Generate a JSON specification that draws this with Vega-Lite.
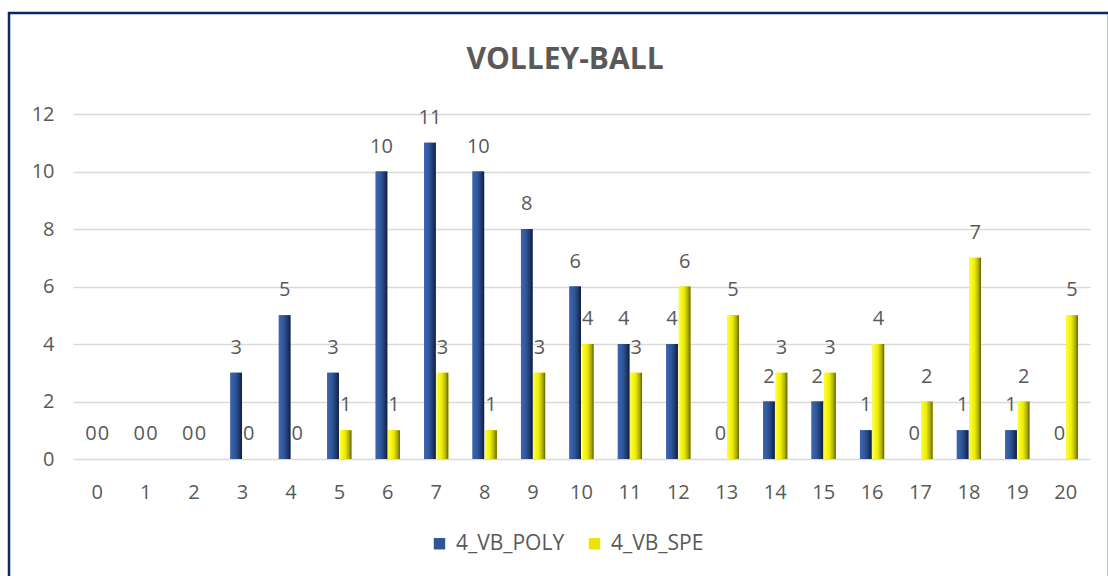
{
  "$schema": "https://vega.github.io/schema/vega-lite/v6.json",
  "width": 1100,
  "height": 565,
  "autosize": "none",
  "padding": {"left": 9, "top": 13, "right": 0, "bottom": 0},
  "background": "white",
  "config": {
    "font": "Open Sans",
    "view": {"stroke": "#0B2A63", "strokeWidth": 2.5},
    "axis": {"labelFont": "Open Sans", "labelColor": "#595959", "labelFontSize": 20},
    "legend": {"labelFont": "Open Sans", "labelColor": "#595959", "labelFontSize": 21}
  },
  "title": {
    "text": "VOLLEY-BALL",
    "font": "Open Sans",
    "fontSize": 30,
    "fontWeight": "bold",
    "color": "#595959",
    "anchor": "middle",
    "dx": 6,
    "offset": -62
  },
  "data": {
    "values": [
      {"cat": 0, "series": "4_VB_POLY", "value": 0},
      {"cat": 1, "series": "4_VB_POLY", "value": 0},
      {"cat": 2, "series": "4_VB_POLY", "value": 0},
      {"cat": 3, "series": "4_VB_POLY", "value": 3},
      {"cat": 4, "series": "4_VB_POLY", "value": 5},
      {"cat": 5, "series": "4_VB_POLY", "value": 3},
      {"cat": 6, "series": "4_VB_POLY", "value": 10},
      {"cat": 7, "series": "4_VB_POLY", "value": 11},
      {"cat": 8, "series": "4_VB_POLY", "value": 10},
      {"cat": 9, "series": "4_VB_POLY", "value": 8},
      {"cat": 10, "series": "4_VB_POLY", "value": 6},
      {"cat": 11, "series": "4_VB_POLY", "value": 4},
      {"cat": 12, "series": "4_VB_POLY", "value": 4},
      {"cat": 13, "series": "4_VB_POLY", "value": 0},
      {"cat": 14, "series": "4_VB_POLY", "value": 2},
      {"cat": 15, "series": "4_VB_POLY", "value": 2},
      {"cat": 16, "series": "4_VB_POLY", "value": 1},
      {"cat": 17, "series": "4_VB_POLY", "value": 0},
      {"cat": 18, "series": "4_VB_POLY", "value": 1},
      {"cat": 19, "series": "4_VB_POLY", "value": 1},
      {"cat": 20, "series": "4_VB_POLY", "value": 0},
      {"cat": 0, "series": "4_VB_SPE", "value": 0},
      {"cat": 1, "series": "4_VB_SPE", "value": 0},
      {"cat": 2, "series": "4_VB_SPE", "value": 0},
      {"cat": 3, "series": "4_VB_SPE", "value": 0},
      {"cat": 4, "series": "4_VB_SPE", "value": 0},
      {"cat": 5, "series": "4_VB_SPE", "value": 1},
      {"cat": 6, "series": "4_VB_SPE", "value": 1},
      {"cat": 7, "series": "4_VB_SPE", "value": 3},
      {"cat": 8, "series": "4_VB_SPE", "value": 1},
      {"cat": 9, "series": "4_VB_SPE", "value": 3},
      {"cat": 10, "series": "4_VB_SPE", "value": 4},
      {"cat": 11, "series": "4_VB_SPE", "value": 3},
      {"cat": 12, "series": "4_VB_SPE", "value": 6},
      {"cat": 13, "series": "4_VB_SPE", "value": 5},
      {"cat": 14, "series": "4_VB_SPE", "value": 3},
      {"cat": 15, "series": "4_VB_SPE", "value": 3},
      {"cat": 16, "series": "4_VB_SPE", "value": 4},
      {"cat": 17, "series": "4_VB_SPE", "value": 2},
      {"cat": 18, "series": "4_VB_SPE", "value": 7},
      {"cat": 19, "series": "4_VB_SPE", "value": 2},
      {"cat": 20, "series": "4_VB_SPE", "value": 5}
    ]
  },
  "encoding": {
    "x": {
      "field": "cat",
      "type": "ordinal",
      "scale": {"range": [64, 1081], "paddingInner": 0.5, "paddingOuter": 0.25},
      "axis": {
        "title": null,
        "labelAngle": 0,
        "ticks": false,
        "tickSize": 0,
        "domain": false,
        "grid": false,
        "offset": -119,
        "labelPadding": 23
      }
    },
    "xOffset": {
      "field": "series",
      "type": "nominal",
      "scale": {"paddingInner": 0.08, "paddingOuter": 0}
    },
    "y": {
      "field": "value",
      "type": "quantitative",
      "scale": {"domain": [0, 12], "range": [446, 101], "nice": false, "zero": true},
      "axis": {
        "title": null,
        "values": [0, 2, 4, 6, 8, 10, 12],
        "ticks": false,
        "tickSize": 0,
        "domain": false,
        "grid": true,
        "gridColor": "#D9D9D9",
        "gridWidth": 1.5,
        "offset": -50,
        "labelPadding": 5
      }
    }
  },
  "layer": [
    {
      "mark": {"type": "bar"},
      "encoding": {
        "color": {
          "field": "series",
          "type": "nominal",
          "scale": {"domain": ["4_VB_POLY", "4_VB_SPE"], "range": ["#2F5597", "#E6E600"]},
          "legend": {
            "title": null,
            "orient": "none",
            "direction": "horizontal",
            "legendX": 420,
            "legendY": 520,
            "symbolType": "square",
            "symbolSize": 130,
            "symbolStrokeWidth": 0,
            "columnPadding": 19,
            "labelOffset": 6
          }
        }
      }
    },
    {
      "transform": [{"filter": "datum.series === '4_VB_POLY'"}],
      "mark": {
        "type": "bar",
        "color": {
          "gradient": "linear",
          "x1": 0, "y1": 0, "x2": 1, "y2": 0,
          "stops": [
            {"offset": 0, "color": "#3D66B3"},
            {"offset": 0.45, "color": "#2F5597"},
            {"offset": 0.8, "color": "#1D3566"},
            {"offset": 1, "color": "#0E1B36"}
          ]
        }
      },
      "encoding": {}
    },
    {
      "transform": [{"filter": "datum.series === '4_VB_SPE'"}],
      "mark": {
        "type": "bar",
        "color": {
          "gradient": "linear",
          "x1": 0, "y1": 0, "x2": 1, "y2": 0,
          "stops": [
            {"offset": 0, "color": "#FFFF3A"},
            {"offset": 0.45, "color": "#EDED00"},
            {"offset": 0.8, "color": "#A8A800"},
            {"offset": 1, "color": "#5E5E00"}
          ]
        }
      },
      "encoding": {}
    },
    {
      "mark": {
        "type": "text",
        "baseline": "alphabetic",
        "align": "center",
        "dy": -19,
        "fontSize": 20,
        "color": "#595959",
        "font": "Open Sans"
      },
      "encoding": {
        "text": {"field": "value", "type": "quantitative"}
      }
    }
  ]
}
